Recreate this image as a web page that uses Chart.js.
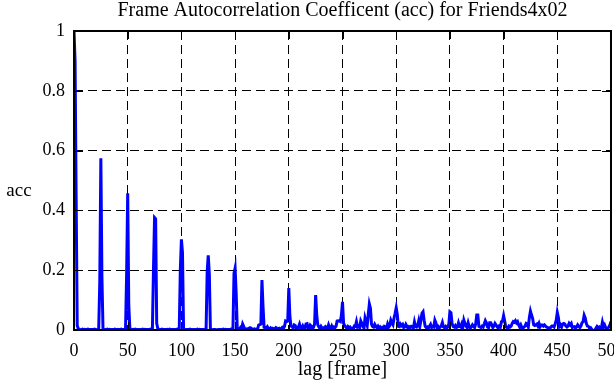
<!DOCTYPE html>
<html>
<head>
<meta charset="utf-8">
<script src="https://cdn.jsdelivr.net/npm/chart.js@4/dist/chart.umd.min.js"></script>
<style>
  html, body { margin: 0; padding: 0; background: #fff; }
  #wrap { width: 614px; height: 385px; }
</style>
</head>
<body>
<div id="wrap"><canvas id="accChart" width="614" height="385"></canvas></div>
<script>
// Labels
const chartTitle = 'Frame Autocorrelation Coefficent (acc) for Friends4x02';
const xLabel = 'lag [frame]';
const yLabel = 'acc';

// Tick values
const xTicks = [0, 50, 100, 150, 200, 250, 300, 350, 400, 450, 500];
const yTicks = [0, 0.2, 0.4, 0.6, 0.8, 1];

// acc per lag, lag 0..500 (one row = 25 lags)
const acc = [
  1.000, 0.900, 0.440, 0.015, 0.004, 0.002, 0.001, 0.002, 0.003, 0.001, 0.002, 0.001, 0.002, 0.003, 0.002, 0.001, 0.002, 0.002, 0.001, 0.003, 0.002, 0.001, 0.002, 0.004, 0.160,
  0.574, 0.178, 0.004, 0.002, 0.001, 0.002, 0.003, 0.001, 0.002, 0.001, 0.002, 0.002, 0.001, 0.003, 0.002, 0.001, 0.002, 0.001, 0.002, 0.003, 0.001, 0.002, 0.002, 0.004, 0.187,
  0.457, 0.083, 0.005, 0.002, 0.001, 0.002, 0.001, 0.003, 0.002, 0.001, 0.002, 0.002, 0.001, 0.002, 0.003, 0.001, 0.002, 0.001, 0.002, 0.002, 0.001, 0.003, 0.002, 0.004, 0.203,
  0.376, 0.372, 0.022, 0.006, 0.002, 0.001, 0.002, 0.003, 0.001, 0.002, 0.002, 0.001, 0.002, 0.001, 0.003, 0.002, 0.001, 0.002, 0.002, 0.001, 0.002, 0.003, 0.001, 0.004, 0.200,
  0.303, 0.259, 0.004, 0.002, 0.001, 0.002, 0.002, 0.001, 0.003, 0.002, 0.001, 0.002, 0.002, 0.001, 0.002, 0.003, 0.001, 0.002, 0.001, 0.002, 0.002, 0.001, 0.003, 0.004, 0.195,
  0.250, 0.187, 0.004, 0.002, 0.001, 0.002, 0.002, 0.001, -0.003, 0.001, 0.002, 0.002, 0.001, 0.002, 0.003, 0.001, 0.002, 0.001, 0.002, 0.002, 0.001, 0.003, 0.002, 0.005, 0.190,
  0.207, 0.122, 0.006, 0.003, 0.002, 0.008, 0.004, 0.020, 0.012, 0.003, 0.002, 0.004, 0.003, 0.006, 0.008, 0.006, 0.003, 0.002, 0.004, 0.003, 0.002, 0.004, 0.017, 0.018, 0.020,
  0.167, 0.078, 0.009, 0.008, 0.006, 0.011, 0.005, 0.004, 0.007, 0.003, 0.006, 0.004, 0.003, 0.008, 0.005, 0.004, 0.006, 0.003, 0.005, 0.009, 0.006, 0.012, 0.030, 0.028, 0.030,
  0.140, 0.047, 0.013, 0.012, 0.006, 0.017, 0.015, 0.006, 0.004, 0.010, 0.020, 0.008, 0.005, 0.013, 0.004, 0.006, 0.020, 0.021, 0.007, 0.005, 0.016, 0.012, 0.004, 0.009, 0.020,
  0.117, 0.050, 0.017, 0.010, 0.005, 0.012, 0.006, 0.003, 0.008, 0.011, 0.006, 0.005, 0.017, 0.006, 0.004, 0.013, 0.005, 0.010, 0.008, 0.012, 0.030, 0.031, 0.030, 0.028, 0.050,
  0.094, 0.022, 0.015, 0.010, 0.006, 0.012, 0.008, 0.010, 0.004, 0.006, 0.003, 0.013, 0.012, 0.028, 0.010, 0.013, 0.008, 0.030, 0.022, 0.012, 0.006, 0.040, 0.027, 0.015, 0.052,
  0.087, 0.073, 0.020, 0.012, 0.010, 0.019, 0.012, 0.008, 0.013, 0.006, 0.010, 0.004, 0.008, 0.003, 0.012, 0.010, 0.006, 0.020, 0.010, 0.015, 0.033, 0.025, 0.018, 0.040, 0.056,
  0.074, 0.052, 0.012, 0.011, 0.020, 0.015, 0.019, 0.008, 0.010, 0.019, 0.012, 0.006, 0.011, 0.008, 0.012, 0.010, 0.006, 0.027, 0.012, 0.010, 0.015, 0.031, 0.012, 0.033, 0.056,
  0.061, 0.033, 0.012, 0.008, 0.010, 0.006, 0.013, 0.019, 0.008, 0.012, 0.010, 0.033, 0.024, 0.008, 0.012, 0.006, 0.010, 0.014, 0.025, 0.010, 0.008, 0.012, 0.006, 0.010, 0.020,
  0.061, 0.058, 0.022, 0.012, 0.010, 0.015, 0.008, 0.010, 0.024, 0.012, 0.010, 0.020, 0.008, 0.033, 0.022, 0.013, 0.008, 0.024, 0.011, 0.006, 0.010, 0.017, 0.012, 0.008, 0.020,
  0.050, 0.050, 0.012, 0.010, 0.008, 0.013, 0.010, 0.020, 0.031, 0.024, 0.010, 0.008, 0.024, 0.024, 0.017, 0.008, 0.013, 0.022, 0.017, 0.010, 0.006, 0.013, 0.010, 0.028, 0.030,
  0.048, 0.030, 0.011, 0.008, 0.006, 0.013, 0.010, 0.013, 0.022, 0.028, 0.026, 0.031, 0.024, 0.028, 0.017, 0.010, 0.017, 0.008, 0.006, 0.010, 0.013, 0.022, 0.020, 0.010, 0.042,
  0.063, 0.050, 0.039, 0.017, 0.015, 0.017, 0.020, 0.013, 0.022, 0.011, 0.017, 0.017, 0.013, 0.017, 0.013, 0.010, 0.008, 0.006, 0.005, 0.010, 0.013, 0.013, 0.010, 0.020, 0.033,
  0.059, 0.042, 0.012, 0.017, 0.010, 0.020, 0.022, 0.020, 0.013, 0.010, 0.013, 0.022, 0.017, 0.022, 0.008, 0.010, 0.011, 0.006, 0.010, 0.017, 0.012, 0.008, 0.013, 0.024, 0.028,
  0.049, 0.040, 0.022, 0.013, 0.012, 0.006, 0.008, 0.003, -0.002, -0.002, -0.001, 0.006, 0.012, 0.008, 0.010, 0.005, 0.006, 0.026, 0.011, 0.017, 0.008, 0.004, 0.006, 0.010, 0.017,
  0.029
];

const serif = '"Liberation Serif", "DejaVu Serif", serif';

// frame, inward ticks, title and horizontal y label (gnuplot look)
const gnuFrame = {
  id: 'gnuFrame',
  afterDatasetsDraw(chart) {
    const { ctx, chartArea: a, scales: { x, y } } = chart;
    ctx.save();
    ctx.strokeStyle = '#000';
    ctx.lineWidth = 1;
    ctx.beginPath();
    xTicks.forEach(v => {
      const px = Math.round(x.getPixelForValue(v)) + 0.5;
      ctx.moveTo(px, a.bottom); ctx.lineTo(px, a.bottom - 8);
      ctx.moveTo(px, a.top); ctx.lineTo(px, a.top + 8);
    });
    yTicks.forEach(v => {
      const py = Math.round(y.getPixelForValue(v)) + 0.5;
      ctx.moveTo(a.left, py); ctx.lineTo(a.left + 9, py);
      ctx.moveTo(a.right, py); ctx.lineTo(a.right - 9, py);
    });
    ctx.stroke();
    ctx.lineWidth = 2;
    ctx.strokeRect(a.left, a.top, a.right - a.left, a.bottom - a.top);
    ctx.restore();
  },
  afterDraw(chart) {
    const { ctx, chartArea: a } = chart;
    ctx.save();
    ctx.fillStyle = '#000';
    ctx.font = '20px ' + serif;
    ctx.textAlign = 'center';
    ctx.textBaseline = 'alphabetic';
    ctx.fillText(chartTitle, (a.left + a.right) / 2, 16);
    ctx.font = '19px ' + serif;
    ctx.fillText(yLabel, 19, 196);
    ctx.restore();
  }
};

new Chart(document.getElementById('accChart'), {
  type: 'line',
  data: {
    datasets: [{
      data: acc.map((v, lag) => ({ x: lag, y: v })),
      borderColor: '#0000ff',
      borderWidth: 3,
      pointRadius: 0,
      tension: 0,
      fill: false
    }]
  },
  options: {
    responsive: false,
    animation: false,
    devicePixelRatio: 1,
    layout: { padding: { top: 31, right: 3, left: 0, bottom: 0 } },
    plugins: { legend: { display: false }, title: { display: false }, tooltip: { enabled: false } },
    scales: {
      x: {
        type: 'linear',
        min: 0, max: 500,
        afterBuildTicks: s => { s.ticks = xTicks.map(v => ({ value: v })); },
        afterFit: s => { s.height = 55; s.paddingLeft = 0; s.paddingRight = 0; },
        grid: { color: '#000', lineWidth: 1, drawTicks: false },
        border: { display: false, dash: [9, 5] },
        ticks: { color: '#000', font: { family: serif, size: 18 }, padding: 10, maxRotation: 0, autoSkip: false },
        title: { display: true, text: xLabel, color: '#000', font: { family: serif, size: 20 }, padding: { top: 0, bottom: 3 } }
      },
      y: {
        min: 0, max: 1,
        afterBuildTicks: s => { s.ticks = yTicks.map(v => ({ value: v })); },
        afterFit: s => { s.width = 74; s.paddingTop = 0; s.paddingBottom = 0; },
        grid: { color: '#000', lineWidth: 1, drawTicks: false },
        border: { display: false, dash: [9, 5] },
        ticks: { color: '#000', font: { family: serif, size: 18 }, padding: 9, callback: v => String(v) }
      }
    }
  },
  plugins: [gnuFrame]
});
</script>
</body>
</html>
